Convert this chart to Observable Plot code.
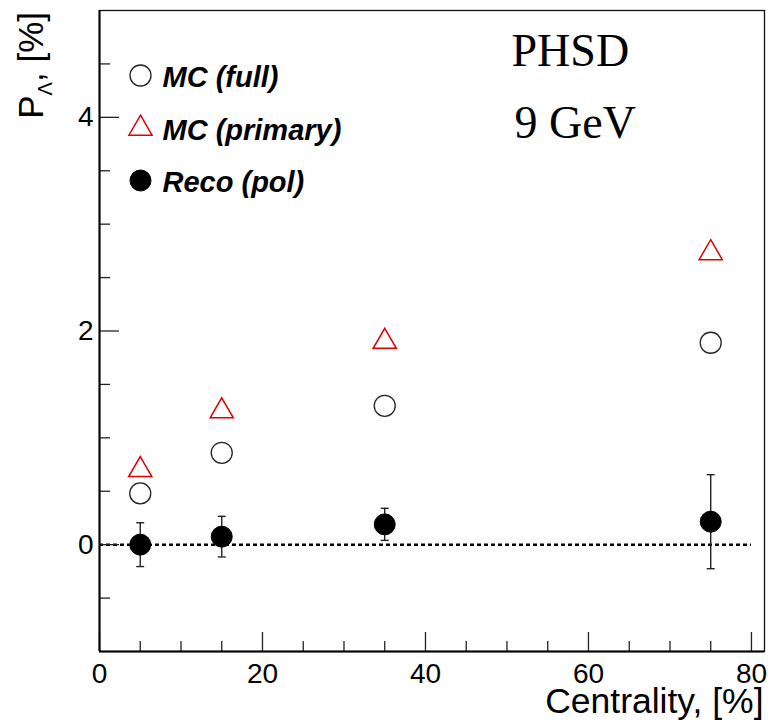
<!DOCTYPE html>
<html>
<head>
<meta charset="utf-8">
<script src="https://cdn.jsdelivr.net/npm/d3@7"></script>
<script src="https://cdn.jsdelivr.net/npm/@observablehq/plot@0.6"></script>
<style>
  html, body { margin: 0; padding: 0; background: #fff; }
  #chart svg { display: block; }
</style>
</head>
<body>
<div id="chart"></div>
<script>
// ---- data ----
const centrality = [5, 15, 35, 75];
const mcFull = [0.48, 0.86, 1.30, 1.89];
const mcPrimary = [0.70, 1.25, 1.90, 2.73];
const reco = [0.0, 0.075, 0.19, 0.215];
const recoErr = [0.205, 0.19, 0.15, 0.44];

const xMajorTicks = [0, 20, 40, 60, 80];
const xMinorTicks = [5, 10, 15, 25, 30, 35, 45, 50, 55, 65, 70, 75];
const yMajorTicks = [0, 2, 4];
const yMinorTicks = [-0.5, 0.5, 1, 1.5, 2.5, 3, 3.5, 4.5];

const legendLabels = ["MC (full)", "MC (primary)", "Reco (pol)"];
const annotations = ["PHSD", "9 GeV"];
const xTitle = "Centrality, [%]";

// ---- build rows ----
const rows = centrality.map((c, i) => ({
  c, full: mcFull[i], prim: mcPrimary[i], reco: reco[i],
  lo: reco[i] - recoErr[i], hi: reco[i] + recoErr[i]
}));

const W = 768, H = 724;
const mL = 99, mR = 4, mT = 10, mB = 73;
const plotW = W - mL - mR, plotH = H - mT - mB;

const RED = "#e00000";
const capSymbol = {
  draw(ctx, size) {
    const r = Math.sqrt(size / Math.PI);
    ctx.moveTo(-r, 0); ctx.lineTo(r, 0);
  }
};

const legendStyle = [
  {symbol: "circle", fill: "white", stroke: "#222", r: 10.5, strokeWidth: 1.3},
  {symbol: "triangle", fill: "none", stroke: RED, r: 8.6, strokeWidth: 1.5},
  {symbol: "circle", fill: "black", stroke: "black", r: 10.5, strokeWidth: 1}
];
const legendDy = [65, 118, 170];

const legendMarks = legendLabels.flatMap((lab, i) => [
  Plot.dot([lab], {frameAnchor: "top-left", dx: 41, dy: legendDy[i], ...legendStyle[i]}),
  Plot.text([lab], {frameAnchor: "top-left", text: d => d, dx: 63, dy: legendDy[i] + 11,
    textAnchor: "start", lineAnchor: "bottom", fontSize: 29, fontWeight: "bold",
    fontStyle: "italic", fill: "black"})
]);

const chart = Plot.plot({
  width: W, height: H,
  marginLeft: mL, marginRight: mR, marginTop: mT, marginBottom: mB,
  style: {fontFamily: "'Liberation Sans', Arial, sans-serif", fontSize: "28px", color: "black", background: "white"},
  x: {domain: [0, 81.6]},
  y: {domain: [-1, 5]},
  marks: [
    // zero line
    Plot.ruleY([0], {x1: 0, x2: 80, stroke: "black", strokeWidth: 2.5, strokeDasharray: "4,3"}),
    // ticks inside the frame
    Plot.tickX(xMajorTicks, {x: d => d, insetTop: plotH - 19, stroke: "#222", strokeWidth: 1.3}),
    Plot.tickX(xMinorTicks, {x: d => d, insetTop: plotH - 10, stroke: "#222", strokeWidth: 1.3}),
    Plot.tickY(yMajorTicks, {y: d => d, insetRight: plotW - 20, stroke: "#222", strokeWidth: 1.3}),
    Plot.tickY(yMinorTicks, {y: d => d, insetRight: plotW - 11, stroke: "#222", strokeWidth: 1.3}),
    // tick labels
    Plot.axisX({ticks: xMajorTicks, tickSize: 0, tickPadding: 12, fontSize: 28, label: null, tickFormat: d => String(d)}),
    Plot.axisY({ticks: yMajorTicks, tickSize: 0, tickPadding: 6, fontSize: 28, label: null, tickFormat: d => String(d)}),
    // frame
    Plot.frame({stroke: "#111", strokeWidth: 1.3}),
    Plot.ruleX([0], {stroke: "black", strokeWidth: 2}),
    Plot.ruleY([-1], {stroke: "black", strokeWidth: 2}),
    // error bars
    Plot.ruleX(rows, {x: "c", y1: "lo", y2: "hi", stroke: "#222", strokeWidth: 1.4}),
    Plot.dot(rows, {x: "c", y: "lo", symbol: capSymbol, r: 4, stroke: "#222", strokeWidth: 1.4}),
    Plot.dot(rows, {x: "c", y: "hi", symbol: capSymbol, r: 4, stroke: "#222", strokeWidth: 1.4}),
    // series
    Plot.dot(rows, {x: "c", y: "full", ...legendStyle[0]}),
    Plot.dot(rows, {x: "c", y: "prim", ...legendStyle[1]}),
    Plot.dot(rows, {x: "c", y: "reco", ...legendStyle[2]}),
    // legend
    ...legendMarks,
    // annotations
    Plot.text([annotations[0]], {frameAnchor: "top-left", text: d => d, dx: 412, dy: 55,
      textAnchor: "start", lineAnchor: "bottom", fontSize: 46, fontFamily: "'Liberation Serif', serif", fill: "black"}),
    Plot.text([annotations[1]], {frameAnchor: "top-left", text: d => d, dx: 415, dy: 127,
      textAnchor: "start", lineAnchor: "bottom", fontSize: 46, fontFamily: "'Liberation Serif', serif", fill: "black"}),
    // x title
    Plot.text([xTitle], {frameAnchor: "bottom-right", text: d => d, dx: -1, dy: 61,
      textAnchor: "end", lineAnchor: "bottom", fontSize: 35.5, fill: "black"})
  ]
});

// y title with subscript
const svg = d3.select(chart);
const yt = svg.append("text")
  .attr("transform", "translate(43,12) rotate(-90)")
  .attr("text-anchor", "end")
  .attr("font-family", "'Liberation Sans', Arial, sans-serif")
  .attr("font-size", 35)
  .attr("fill", "black");
yt.append("tspan").text("P");
yt.append("tspan").attr("font-size", 20).attr("dy", 9).text("Λ");
yt.append("tspan").attr("dy", -9).text(", [%]");

document.getElementById("chart").appendChild(chart);
</script>
</body>
</html>
